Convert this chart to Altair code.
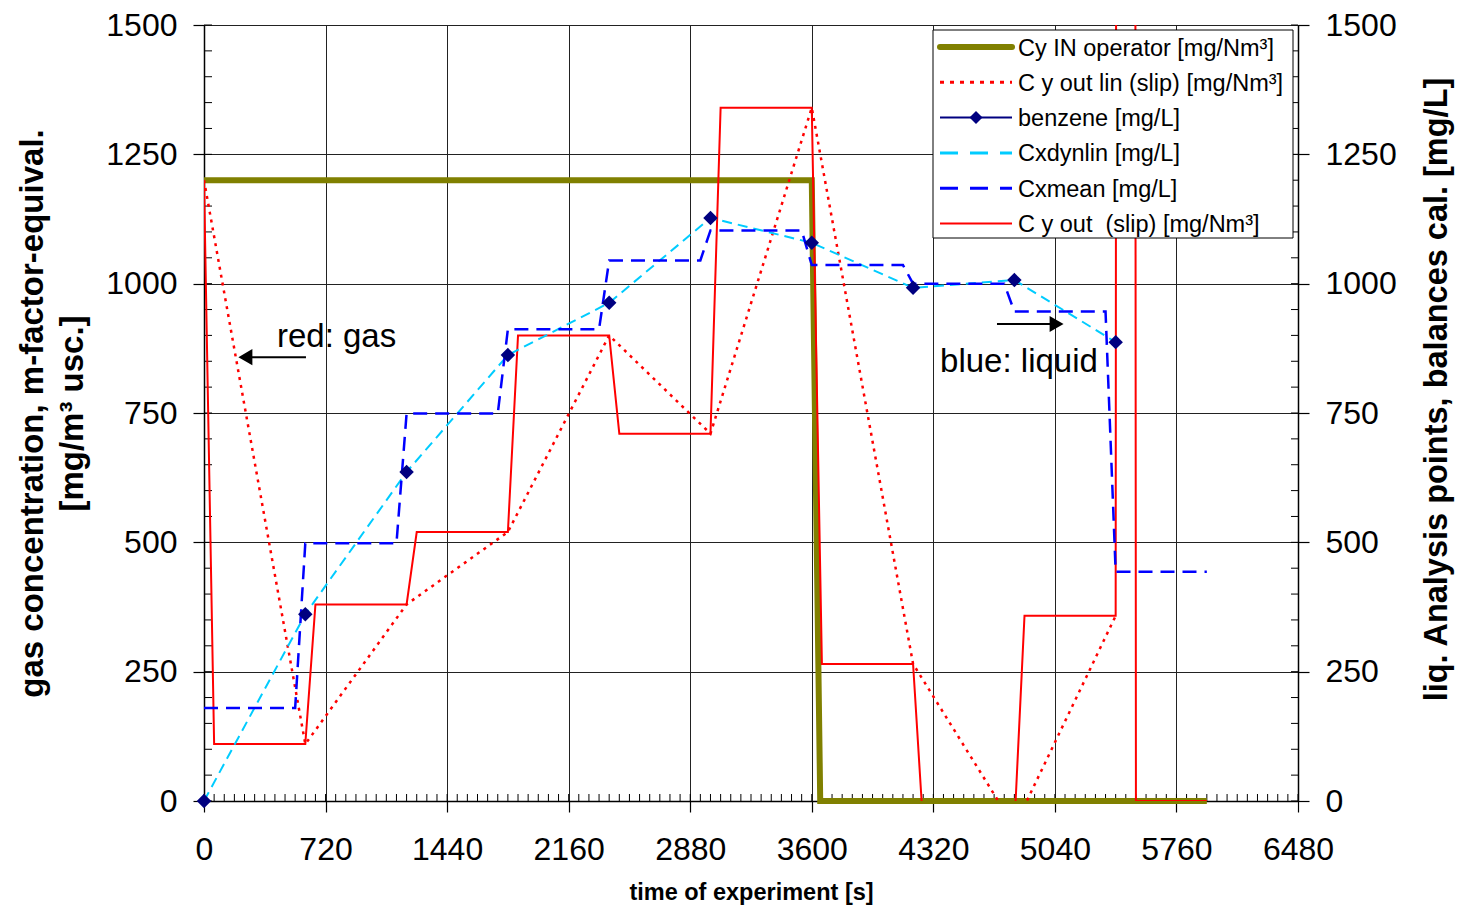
import altair as alt
import pandas as pd

# ---------------- data ----------------
# gas side (left axis, mg/Nm3)
t_in = [0, 3600, 3650, 5940]
cy_in = [1200, 1200, 0, 0]

t_lin = [0, 600, 1200, 1800, 2400, 3000, 3600, 4200, 4800, 5400]
cy_out_lin = [1200, 110, 380, 520, 900, 710, 1340, 265, -50, 358]

t_out = [0, 60, 600, 660, 1200, 1260, 1800, 1860, 2400, 2460, 3000, 3060,
         3600, 3660, 4200, 4260, 4800, 4860, 5400, 5460, 5520, 5940]
cy_out = [1200, 110, 110, 380, 380, 520, 520, 900, 900, 710, 710, 1340,
          1340, 265, 265, -50, -50, 358, 358, 30000, 0, 0]

# liquid side (right axis, mg/L)
t_liq = [0, 600, 1200, 1800, 2400, 3000, 3600, 4200, 4800, 5400]
benzene = [0, 361, 636, 862, 963, 1127, 1079, 992, 1007, 887]
cxdynlin = [0, 361, 636, 862, 963, 1127, 1079, 992, 1007, 887]

t_mean = [0, 540, 600, 1140, 1200, 1740, 1800, 2340, 2400, 2940, 3000, 3540,
          3600, 4140, 4200, 4740, 4800, 5340, 5400, 5940]
cxmean = [180, 180, 498, 498, 749, 749, 912, 912, 1045, 1045, 1103, 1103,
          1036, 1036, 1000, 1000, 946, 946, 443, 443]

series_names = ["Cy IN operator [mg/Nm³]", "C y out lin (slip) [mg/Nm³]",
                "benzene [mg/L]", "Cxdynlin [mg/L]", "Cxmean [mg/L]",
                "C y out\u00a0 (slip) [mg/Nm³]"]

x_ticks = [0, 720, 1440, 2160, 2880, 3600, 4320, 5040, 5760, 6480]
y_ticks = [0, 250, 500, 750, 1000, 1250, 1500]
x_minor = list(range(0, 6481, 60))
y_minor = list(range(0, 1501, 50))

# ---------------- styling ----------------
W, H = 1094, 776
FONT = "Liberation Sans"
OLIVE, RED, NAVY, CYAN, BLUE = "#808000", "#FF0000", "#000080", "#00CCFF", "#0000FF"

xs = alt.Scale(domain=[0, 6480], nice=False, zero=False)
ys = alt.Scale(domain=[0, 1500], nice=False, zero=False)


def frame(t, v):
    return pd.DataFrame({"t": t, "v": v, "i": list(range(len(t)))})


x_axis = alt.Axis(values=x_ticks, format="d", title="time of experiment [s]",
                  labelFontSize=32, titleFontSize=23.5, titleFontWeight="bold",
                  tickSize=11, labelPadding=22, titlePadding=15,
                  grid=True, gridColor="#222", gridWidth=1, labelFlush=False)
yl_axis = alt.Axis(values=y_ticks, format="d",
                   title=["gas concentration, m-factor-equival.", "[mg/m³ usc.]"],
                   labelFontSize=32, titleFontSize=33, titleFontWeight="bold",
                   titleLineHeight=40, tickSize=11, labelPadding=16, titlePadding=16,
                   grid=True, gridColor="#222", gridWidth=1)
yr_axis = alt.Axis(values=y_ticks, format="d", orient="right",
                   title="liq. Analysis points, balances cal. [mg/L]",
                   labelFontSize=32, titleFontSize=32.5, titleFontWeight="bold",
                   titleAngle=270, titleBaseline="top", titleY=364,
                   tickSize=11, labelPadding=16, titlePadding=24, grid=False)

X = lambda: alt.X("t:Q", scale=xs, axis=x_axis)
YL = lambda: alt.Y("v:Q", scale=ys, axis=yl_axis)
YR = lambda: alt.Y("v:Q", scale=ys, axis=yr_axis)


def line(t, v, color, width, yenc, dash=None, clip=False):
    kw = dict(color=color, strokeWidth=width, clip=clip)
    if dash:
        kw["strokeDash"] = dash
        kw["strokeCap"] = "butt"
    return alt.Chart(frame(t, v)).mark_line(**kw).encode(x=X(), y=yenc(), order="i:Q")


# ---------------- left (gas) group ----------------
xminor = alt.Chart(pd.DataFrame({"t": x_minor})).mark_rule(color="#000", strokeWidth=1).encode(
    x=X(), y=alt.value(H), y2=alt.value(H - 7))
yminor_l = alt.Chart(pd.DataFrame({"v": y_minor})).mark_rule(color="#000", strokeWidth=1).encode(
    y=YL(), x=alt.value(0), x2=alt.value(8))

gas = alt.layer(
    xminor,
    yminor_l,
    line(t_in, cy_in, OLIVE, 6, YL),
    line(t_lin, cy_out_lin, RED, 2.5, YL, dash=[3, 5], clip=True),
    line(t_out, cy_out, RED, 2, YL, clip=True),
)

# ---------------- right (liquid) group ----------------
yminor_r = alt.Chart(pd.DataFrame({"v": y_minor})).mark_rule(color="#000", strokeWidth=1).encode(
    y=YR(), x=alt.value(W - 7), x2=alt.value(W))

benz_pts = alt.Chart(frame(t_liq, benzene)).mark_point(
    shape="diamond", filled=True, size=210, color=NAVY, opacity=1).encode(x=X(), y=YR())

# annotations (data coordinates)
ann_text = alt.Chart(pd.DataFrame({
    "t": [432, 4360], "v": [897, 849], "s": ["red: gas", "blue: liquid"]})).mark_text(
    align="left", baseline="middle", fontSize=33, font=FONT, color="#000").encode(
    x=X(), y=YR(), text="s:N")
ann_rule = alt.Chart(pd.DataFrame({
    "t": [604, 4697], "t2": [260, 5020], "v": [858, 922]})).mark_rule(
    color="#000", strokeWidth=2).encode(x=X(), x2="t2:Q", y=YR())
ann_head = alt.Chart(pd.DataFrame({
    "t": [245, 5050], "v": [858, 922], "sh": ["triangle-left", "triangle-right"]})).mark_point(
    filled=True, size=260, color="#000", opacity=1).encode(
    x=X(), y=YR(), shape=alt.Shape("sh:N", scale=None, legend=None))

# legend (drawn in plot pixel space)
one = alt.Data(values=[{"a": 1}])
LX0, LX1, LY0, LY1 = 729, 1089, 5, 213
leg = [alt.Chart(one).mark_rect(fill="white", stroke="#000", strokeWidth=1).encode(
    x=alt.value(LX0), x2=alt.value(LX1), y=alt.value(LY0), y2=alt.value(LY1))]
styles = [
    dict(color=OLIVE, strokeWidth=6, strokeCap="round"),
    dict(color=RED, strokeWidth=3, strokeDash=[4, 6]),
    dict(color=NAVY, strokeWidth=2),
    dict(color=CYAN, strokeWidth=3, strokeDash=[18, 12]),
    dict(color=BLUE, strokeWidth=3, strokeDash=[18, 12]),
    dict(color=RED, strokeWidth=2),
]
for k, (name, st) in enumerate(zip(series_names, styles)):
    yy = 22 + 35.3 * k
    leg.append(alt.Chart(one).mark_rule(**st).encode(
        x=alt.value(736), x2=alt.value(808), y=alt.value(yy)))
    if k == 2:
        leg.append(alt.Chart(one).mark_point(shape="diamond", filled=True, size=170,
                                             color=NAVY, opacity=1).encode(
            x=alt.value(772), y=alt.value(yy)))
    leg.append(alt.Chart(one).mark_text(text=name, align="left", baseline="middle",
                                        fontSize=23.5, font=FONT, color="#000").encode(
        x=alt.value(814), y=alt.value(yy + 1.5)))

liquid = alt.layer(
    yminor_r,
    line(t_liq, cxdynlin, CYAN, 2, YR, dash=[10, 6]),
    line(t_mean, cxmean, BLUE, 2.5, YR, dash=[14, 8]),
    benz_pts,
    ann_rule, ann_head, ann_text,
    *leg,
)

chart = alt.layer(gas, liquid).resolve_scale(y="independent").properties(
    width=W, height=H,
    padding={"left": 196, "top": 17, "right": 158, "bottom": 105},
    autosize=alt.AutoSizeParams(type="none"),
).configure_view(stroke="#000", strokeWidth=1).configure_axis(
    labelFont=FONT, titleFont=FONT, labelColor="#000", titleColor="#000",
    domainColor="#000", tickColor="#000", domainWidth=1.5, tickWidth=1.2,
)

chart.save("out.html", embed_options={"renderer": "svg", "actions": False})
